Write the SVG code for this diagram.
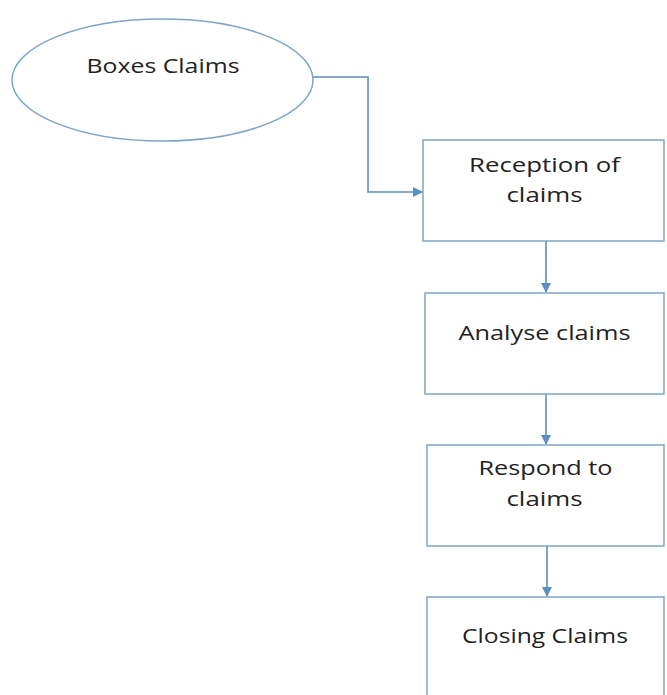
<svg xmlns="http://www.w3.org/2000/svg" width="667" height="695" viewBox="0 0 667 695">
<defs>
<style>
.node{fill:#ffffff;stroke:#7ea5c6;stroke-width:1.5}
.lbl{font-family:"Open Sans","Liberation Sans",sans-serif;font-size:20px;fill:#222222;text-anchor:middle}
.conn{fill:none;stroke:#5b8fbf;stroke-width:1.6}
</style>
<marker id="arr" markerWidth="10" markerHeight="10" refX="9" refY="5" orient="auto" markerUnits="userSpaceOnUse">
<path d="M0,0 L10,5 L0,10 Z" fill="#5b8fbf"/>
</marker>
</defs>
<rect width="667" height="695" fill="#ffffff"/>
<g id="connectors">
<path class="conn" d="M313,77 H368 V192 H422" marker-end="url(#arr)"/>
<path class="conn" d="M546,241 V292" marker-end="url(#arr)"/>
<path class="conn" d="M546,394 V444" marker-end="url(#arr)"/>
<path class="conn" d="M547,546 V596" marker-end="url(#arr)"/>
</g>
<g id="boxes-claims">
<ellipse class="node" cx="162.5" cy="80" rx="150.5" ry="61"/>
<text class="lbl" x="163" y="73" font-size="21" textLength="153" lengthAdjust="spacingAndGlyphs">Boxes Claims</text>
</g>
<g id="reception">
<rect class="node" x="423" y="140" width="241" height="101"/>
<text class="lbl" x="544.5" y="172" textLength="151" lengthAdjust="spacingAndGlyphs">Reception of</text>
<text class="lbl" x="544.5" y="202" textLength="76" lengthAdjust="spacingAndGlyphs">claims</text>
</g>
<g id="analyse">
<rect class="node" x="425" y="293" width="239" height="101"/>
<text class="lbl" x="544.5" y="340" textLength="172" lengthAdjust="spacingAndGlyphs">Analyse claims</text>
</g>
<g id="respond">
<rect class="node" x="427" y="445" width="237" height="101"/>
<text class="lbl" x="545.5" y="475" textLength="134" lengthAdjust="spacingAndGlyphs">Respond to</text>
<text class="lbl" x="544.5" y="506" textLength="76" lengthAdjust="spacingAndGlyphs">claims</text>
</g>
<g id="closing">
<rect class="node" x="427" y="597" width="237" height="102"/>
<text class="lbl" x="545" y="643" textLength="166" lengthAdjust="spacingAndGlyphs">Closing Claims</text>
</g>
</svg>
